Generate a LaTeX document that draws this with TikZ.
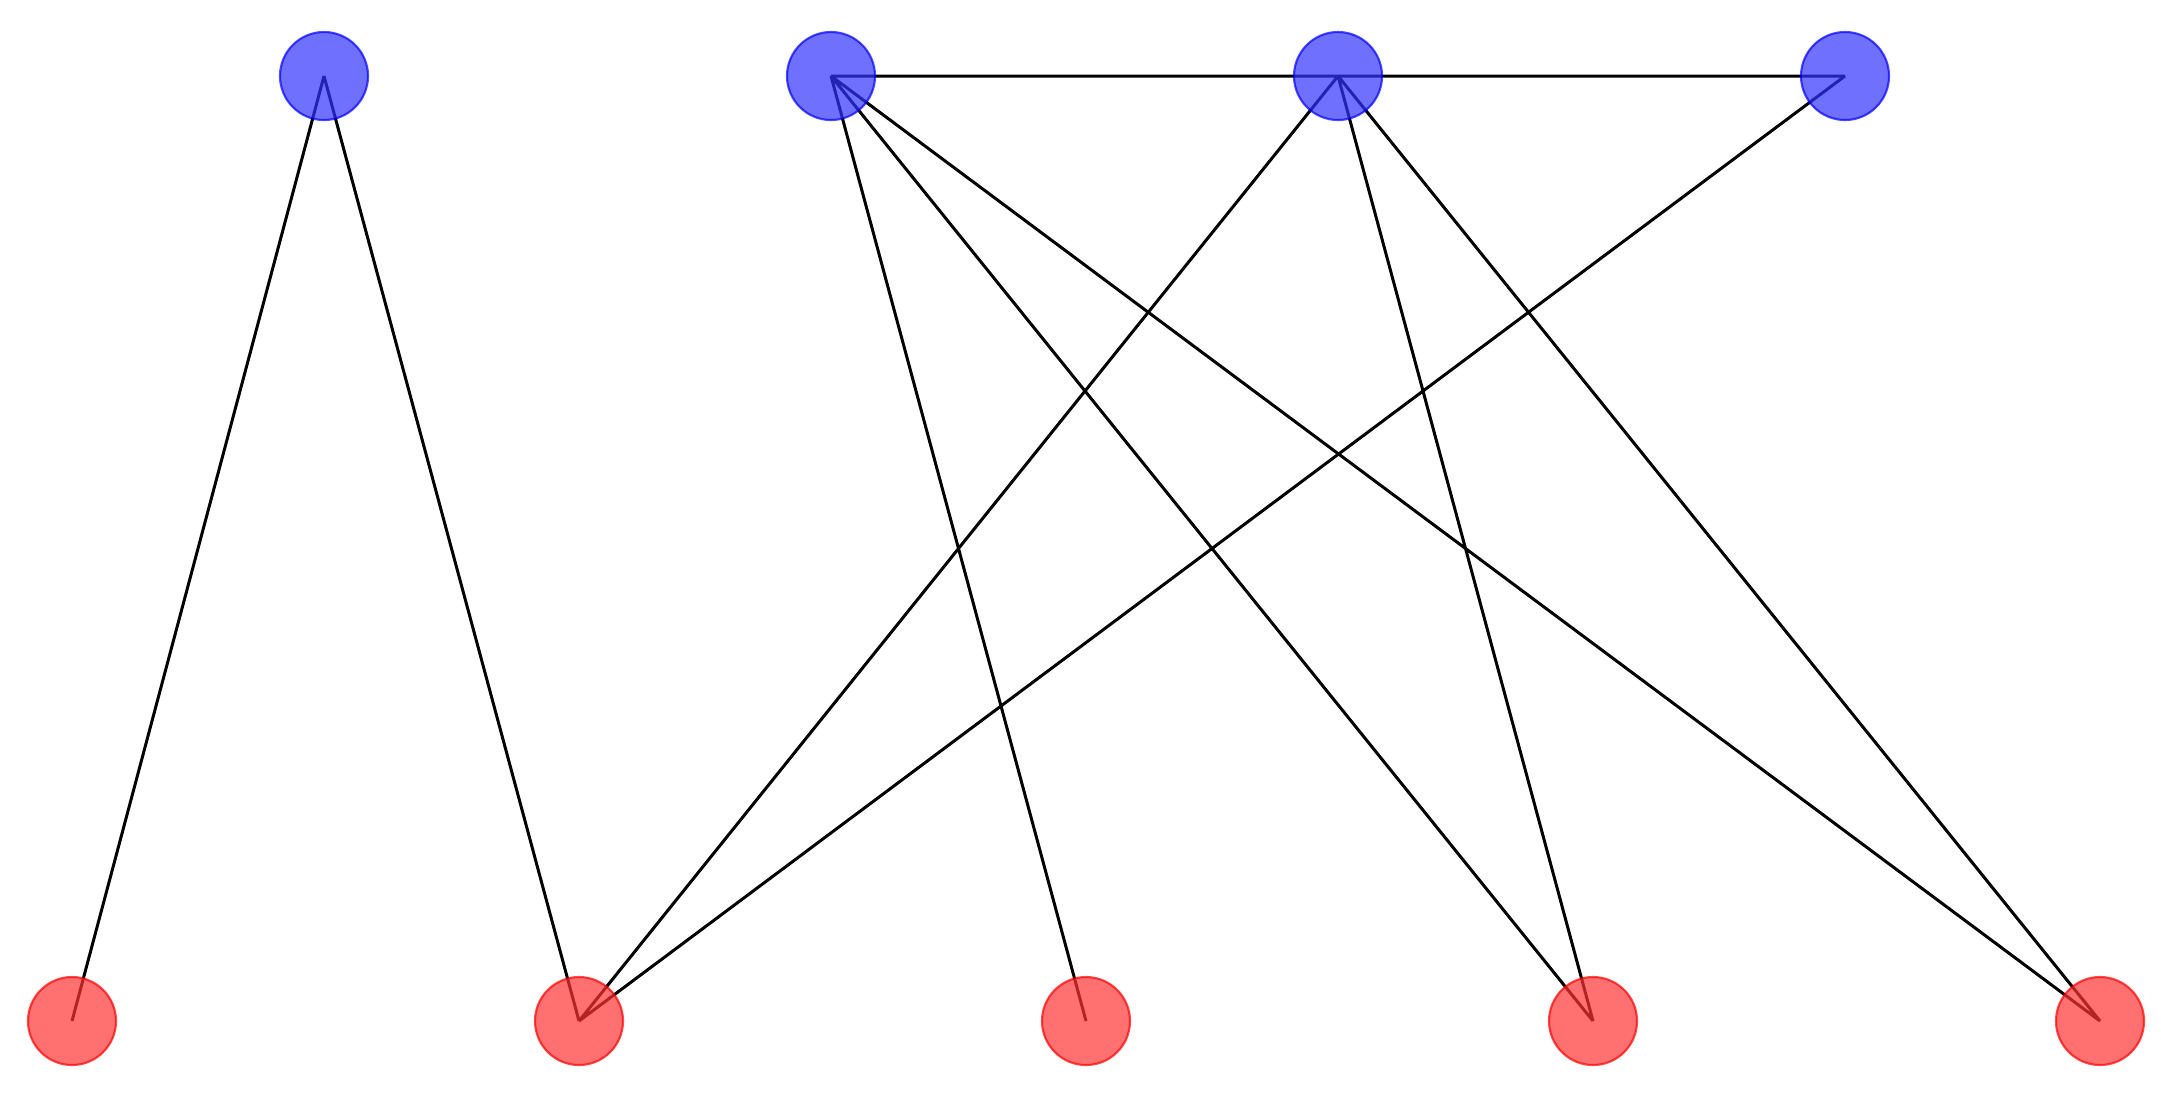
\documentclass[tikz,border=0pt]{standalone}
\begin{document}
\begin{tikzpicture}[x=0.01cm,y=-0.01cm,
  vtx/.style={circle,minimum size=88\pgflinewidth,inner sep=0pt,opacity=0.7,line width=0.6pt},
  bl/.style={vtx,fill=blue!80!white,draw=blue},
  rd/.style={vtx,fill=red!80!white,draw=red},
  edge/.style={line width=0.85pt,black}]
\useasboundingbox (0,0) rectangle (2161,1117);
\foreach \n/\x in {1/324,2/831,3/1338,4/1845} \coordinate (b\n) at (\x,76);
\foreach \n/\x in {1/72,2/579,3/1086,4/1593,5/2100} \coordinate (r\n) at (\x,1021);
\draw[edge] (b1)--(r1) (b1)--(r2) (b2)--(b3) (b3)--(b4)
 (b2)--(r3) (b2)--(r4) (b2)--(r5) (b3)--(r2) (b3)--(r4) (b3)--(r5) (b4)--(r2);
\foreach \n in {1,...,4} \node[bl,minimum size=0.88cm] (B\n) at (b\n) {};
\foreach \n in {1,...,5} \node[rd,minimum size=0.88cm] (R\n) at (r\n) {};
\end{tikzpicture}
\end{document}
